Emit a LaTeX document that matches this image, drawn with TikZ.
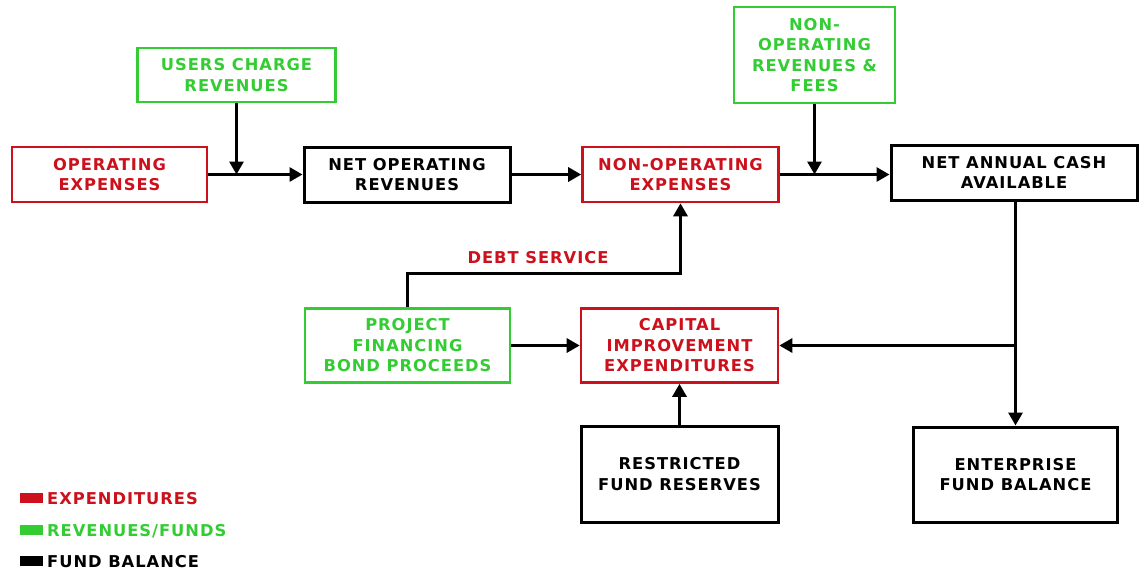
\documentclass[tikz,border=0pt]{standalone}
\usepackage{fontspec}
\setmainfont{DejaVu Sans}
\newfontfamily\dfont[LetterSpace=6]{DejaVu Sans}
\usetikzlibrary{arrows.meta}
\definecolor{cred}{RGB}{204,16,28}
\definecolor{cgreen}{RGB}{51,204,51}
\begin{document}
\begin{tikzpicture}[x=1pt,y=-1pt,
  txt/.style={align=center, inner sep=0pt, font=\dfont\bfseries\fontsize{16.3}{20.5}\selectfont},
  bbox/.style={txt, draw=black, line width=3pt, text=black},
  rbox/.style={txt, draw=cred, line width=2.6pt, text=cred},
  gbox/.style={txt, draw=cgreen, line width=2.6pt, text=cgreen},
  arr/.style={line width=3pt, -{Triangle[length=13pt,width=14pt]}},
  legsq/.style={minimum width=23pt, minimum height=10pt, inner sep=0pt},
  legtx/.style={txt, anchor=west}
]
\useasboundingbox (0,0) rectangle (1142,574);

% boxes
\node[gbox, minimum width=198pt, minimum height=54pt] (ucr) at (236.5,75) {USERS CHARGE\\REVENUES};
\node[rbox, minimum width=195pt, minimum height=55pt] (opx) at (109.5,174.5) {OPERATING\\EXPENSES};
\node[bbox, minimum width=206pt, minimum height=55pt] (nor) at (407,174.5) {NET OPERATING\\REVENUES};
\node[rbox, minimum width=196pt, minimum height=55pt] (noe) at (680.5,174.5) {NON-OPERATING\\EXPENSES};
\node[gbox, minimum width=161pt, minimum height=96pt] (fees) at (814.5,55) {NON-\\OPERATING\\REVENUES \&\\FEES};
\node[bbox, minimum width=246pt, minimum height=55pt] (nac) at (1014,172.5) {NET ANNUAL CASH\\AVAILABLE};
\node[gbox, minimum width=205pt, minimum height=74pt] (pfb) at (407.5,345.5) {PROJECT\\FINANCING\\BOND PROCEEDS};
\node[rbox, minimum width=197pt, minimum height=74pt] (cie) at (679.5,345.5) {CAPITAL\\IMPROVEMENT\\EXPENDITURES};
\node[bbox, minimum width=197pt, minimum height=96pt] (rfr) at (679.5,474) {RESTRICTED\\FUND RESERVES};
\node[bbox, minimum width=204pt, minimum height=95pt] (efb) at (1015.5,474.5) {ENTERPRISE\\FUND BALANCE};

% junctions
\coordinate (j1) at (236.5,174.5);
\coordinate (j2) at (814.5,174.5);
\coordinate (j3) at (1015.5,345.5);
\coordinate (j4) at (407.5,273.5);

% connectors
\draw[arr] (opx.east) -- (nor.west);
\draw[arr] (ucr.south) -- (j1);
\draw[arr] (nor.east) -- (noe.west);
\draw[arr] (fees.south) -- (j2);
\draw[arr] (noe.east) -- (noe.east -| nac.west);
\draw[arr] (nac.south -| efb.north) -- (efb.north);
\draw[arr] (j3) -- (cie.east |- j3);
\draw[arr] (pfb.north) -- (j4) -| (noe.south);
\draw[arr] (pfb.east) -- (cie.west);
\draw[arr] (rfr.north) -- (cie.south);
\node[txt, text=cred] (ds) at (538,258) {DEBT SERVICE};

% legend
\node[legsq, fill=cred] (lr) at (31.5,498) {};
\node[legsq, fill=cgreen] (lg) at (31.5,530) {};
\node[legsq, fill=black] (lb) at (31.5,561) {};
\node[legtx, text=cred] (lrt) at (47,499) {EXPENDITURES};
\node[legtx, text=cgreen] (lgt) at (47,531) {REVENUES/FUNDS};
\node[legtx, text=black] (lbt) at (47,562) {FUND BALANCE};
\end{tikzpicture}
\end{document}
